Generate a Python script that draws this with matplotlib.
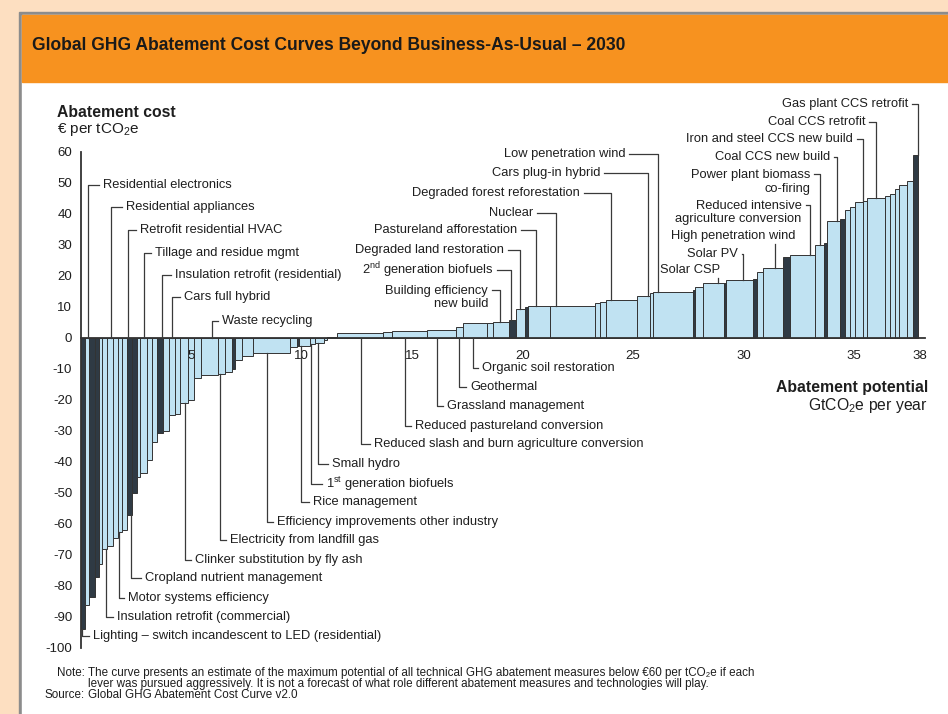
import matplotlib
matplotlib.use('Agg')
import matplotlib.pyplot as plt
from matplotlib import font_manager
from matplotlib.patches import Rectangle
import numpy as np

plt.rcParams['font.family'] = ['Liberation Sans', 'DejaVu Sans']
plt.rcParams['axes.unicode_minus'] = False
plt.rcParams['mathtext.fontset'] = 'custom'
plt.rcParams['mathtext.rm'] = 'Liberation Sans'
plt.rcParams['mathtext.it'] = 'Liberation Sans:italic'
plt.rcParams['mathtext.bf'] = 'Liberation Sans:bold'


def have_font(name):
    try:
        font_manager.findfont(font_manager.FontProperties(family=name),
                              fallback_to_default=False)
        return True
    except ValueError:
        return False


narrow = 'Liberation Sans Narrow' if have_font('Liberation Sans Narrow') else None

# abatement levers, left to right: potential (GtCO2e/yr) and cost (EUR/tCO2e)
potential = [0.20, 0.20, 0.26, 0.19, 0.11, 0.22, 0.31, 0.22, 0.15, 0.26,
             0.20, 0.22, 0.15, 0.33, 0.20, 0.23, 0.30, 0.27, 0.26, 0.22,
             0.35, 0.30, 0.30, 0.75, 0.35, 0.30, 0.15, 0.30, 0.50, 1.70,
             0.30, 0.10, 0.50, 0.20, 0.40, 0.15, 0.45, 2.10, 0.40, 1.60,
             1.30, 0.30, 1.10, 0.25, 0.75, 0.30, 0.40, 0.15, 1.00, 2.05,
             0.20, 0.30, 1.40, 0.55, 0.15, 1.80, 0.10, 0.38, 0.92, 0.10,
             1.24, 0.16, 0.30, 0.90, 0.30, 1.14, 0.41, 0.13, 0.59, 0.22,
             0.23, 0.23, 0.37, 0.15, 0.83, 0.23, 0.22, 0.20, 0.36, 0.24, 0.26]
cost = [-94, -86, -83.5, -77, -73, -68, -67, -64.5, -62.5, -62,
        -57, -50, -45, -43.5, -39.5, -33.5, -30.5, -30, -25, -24.5,
        -21, -20, -13, -12, -11.5, -11, -10, -7, -5.7, -4.9,
        -2.9, -2.6, -2.5, -2.0, -1.5, -0.5, 0.4, 1.5, 2.0, 2.3,
        2.6, 3.6, 4.7, 4.9, 5.3, 5.8, 9.2, 10.0, 10.4, 10.4,
        11.2, 11.5, 12.3, 13.5, 14.4, 14.7, 15.5, 16.5, 17.8, 17.8,
        18.7, 19.0, 21.4, 22.5, 26.0, 26.8, 30.0, 30.5, 37.7, 38.5,
        41.3, 42.4, 44.0, 44.2, 45.1, 45.8, 46.3, 48.0, 49.4, 50.8, 59.0]
dark_bars = [0, 2, 3, 10, 11, 16, 26, 31, 45, 47, 56, 59, 61, 64, 67, 69, 80]

y_ticks = list(range(-100, 61, 10))
x_ticks = [5, 10, 15, 20, 25, 30, 35, 38]

# labels: (text, lever position on x axis)
left_labels = ['Residential electronics', 'Residential appliances',
               'Retrofit residential HVAC', 'Tillage and residue mgmt',
               'Insulation retrofit (residential)', 'Cars full hybrid',
               'Waste recycling',
               'Lighting \u2013 switch incandescent to LED (residential)',
               'Insulation retrofit (commercial)', 'Motor systems efficiency',
               'Cropland nutrient management', 'Clinker substitution by fly ash',
               'Electricity from landfill gas',
               'Efficiency improvements other industry', 'Rice management',
               r'1$^{\mathrm{st}}$ generation biofuels', 'Small hydro',
               'Reduced slash and burn agriculture conversion',
               'Reduced pastureland conversion', 'Grassland management',
               'Geothermal', 'Organic soil restoration']
left_lever = [0.34, 1.38, 2.13, 2.87, 3.69, 4.15, 5.94,
              0.05, 1.15, 1.74, 2.27, 4.73, 6.31, 8.43, 10.0, 10.43, 10.75,
              12.69, 14.68, 16.13, 17.14, 17.75]
right_labels = ['Low penetration wind', 'Cars plug-in hybrid',
                'Degraded forest reforestation', 'Nuclear',
                'Pastureland afforestation', 'Degraded land restoration',
                r'2$^{\mathrm{nd}}$ generation biofuels',
                'Building efficiency\nnew build',
                'Gas plant CCS retrofit', 'Coal CCS retrofit',
                'Iron and steel CCS new build', 'Coal CCS new build',
                'Power plant biomass\nco-firing',
                'Reduced intensive\nagriculture conversion', 'Solar PV']
right_lever = [26.13, 25.68, 23.99, 21.52, 20.6, 19.89, 19.47, 18.98,
               37.9, 35.99, 35.42, 34.23, 33.46, 33.01, 29.98]
below_labels = ['High penetration wind', 'Solar CSP']
below_lever = [31.43, 28.84]

# label placement (data units)
left_pos = [(1.02, 49.5), (2.06, 42.3), (2.69, 34.8), (3.37, 27.4),
            (4.28, 20.2), (4.68, 13.2), (6.40, 5.6),
            (0.57, -96.1), (1.65, -89.9), (2.15, -83.9), (2.92, -77.4),
            (5.18, -71.6), (6.76, -65.2), (8.89, -59.3), (10.52, -52.9),
            (11.11, -47.1), (11.38, -40.6), (13.28, -34.2), (15.14, -28.3),
            (16.58, -21.9), (17.62, -15.9), (18.17, -9.6)]
right_pos = [(24.64, 59.4), (23.51, 53.1), (22.6, 46.8), (20.48, 40.3),
             (19.74, 34.8), (19.16, 28.4), (18.67, 21.9), (18.44, 13.0),
             (37.44, 75.5), (35.5, 69.8), (34.95, 64.1), (33.92, 58.5),
             (33.01, 50.3), (32.63, 40.5), (29.75, 27.1)]
right_hook = [59.4, 53.1, 46.8, 40.3, 34.8, 28.4, 21.9, 15.5,
              75.5, 69.8, 64.1, 58.5, 52.9, 42.9, 27.1]
below_pos = [(32.33, 33.0), (28.93, 21.9)]

widths = np.array(potential)
edges = np.concatenate([[0], np.cumsum(widths)])
lefts = edges[:-1]


def cost_at(x):
    i = np.searchsorted(edges, x, side='right') - 1
    return cost[min(i, len(cost) - 1)]


light = '#c0e2f2'
dark = '#2f3a44'
ink = '#1e1e1e'
line_c = '#3a3a3a'
fs = 9.3

fig = plt.figure(figsize=(9.48, 7.14), dpi=100)
fig.patch.set_facecolor('#fddfc1')
fig.add_artist(Rectangle((19 / 948, 0), 1, 1 - 12 / 714, transform=fig.transFigure,
                         color='#8c8c8c', zorder=-10))
fig.add_artist(Rectangle((22 / 948, 0), 1, 1 - 15 / 714, transform=fig.transFigure,
                         color='white', zorder=-9))
fig.add_artist(Rectangle((22 / 948, 1 - 82 / 714), 1, 67 / 714, transform=fig.transFigure,
                         color='#f7921f', zorder=-8))

title = 'Global GHG Abatement Cost Curves Beyond Business-As-Usual \u2013 2030'
if narrow:
    fig.text(32 / 948, 1 - 46 / 714, title, family=narrow, weight='bold',
             fontsize=15.3, color='#1a1a1a', va='center')
else:
    fig.text(32 / 948, 1 - 46 / 714, title, weight='bold',
             fontsize=12.65, color='#1a1a1a', va='center')

ax = fig.add_axes([0.01498, 0.07073, 0.97911, 0.79454])
ax.set_facecolor('none')
ax.set_xlim(-3, 39)
ax.set_ylim(-105, 78)

colors = [dark if i in dark_bars else light for i in range(len(cost))]
ax.bar(lefts, cost, width=widths, align='edge', color=colors,
       edgecolor='#333333', linewidth=0.7, zorder=2)

for s in ['top', 'right']:
    ax.spines[s].set_visible(False)
ax.spines['left'].set_position(('data', 0))
ax.spines['left'].set_bounds(-100, 60)
ax.spines['bottom'].set_position(('data', 0))
ax.spines['bottom'].set_bounds(0, 38.2)
for s in ['left', 'bottom']:
    ax.spines[s].set_color('#333333')
    ax.spines[s].set_linewidth(1.3)
    ax.spines[s].set_zorder(3)
ax.set_axisbelow(False)

ax.set_yticks(y_ticks)
ax.set_yticklabels([str(v) for v in y_ticks])
ax.set_yticks([-100, 60], minor=True)
ax.tick_params(axis='y', which='major', length=0, pad=6, labelsize=9.5, labelcolor=ink)
ax.tick_params(axis='y', which='minor', direction='in', length=5, width=1.2,
               color='#333333')
ax.set_xticks(x_ticks)
ax.set_xticklabels([str(v) for v in x_ticks])
ax.tick_params(axis='x', length=0, pad=9, labelsize=9.5, labelcolor=ink)

# axis titles
ax.text(-1.06, 72.9, 'Abatement cost', weight='bold', fontsize=11.3, color=ink, va='center')
ax.text(-1.06, 67.1, '\u20ac per tCO$_2$e', fontsize=11, color=ink, va='center')
ax.text(38.35, -16.1, 'Abatement potential', weight='bold', fontsize=11.3, color=ink,
        va='center', ha='right')
ax.text(38.35, -21.9, r'GtCO$_2$e per year', fontsize=11.3, color=ink,
        va='center', ha='right')

lw = 0.9
gap = 0.18

# labels to the right of their leader line
for txt, lx, (tx, ty) in zip(left_labels, left_lever, left_pos):
    c = cost_at(lx)
    y0 = c if (ty < 0 and c < 0) else 0
    ax.plot([lx, lx, tx - gap], [y0, ty, ty], color=line_c, lw=lw, clip_on=False, zorder=4)
    ax.text(tx, ty, txt, fontsize=fs, color=ink, ha='left', va='center')

# labels to the left of their leader line
for txt, lx, (tx, ty), hy in zip(right_labels, right_lever, right_pos, right_hook):
    c = cost_at(lx)
    ax.plot([tx + gap, lx, lx], [hy, hy, c], color=line_c, lw=lw, clip_on=False, zorder=4)
    ax.text(tx, ty, txt, fontsize=fs, color=ink, ha='right', va='center',
            multialignment='right', linespacing=1.15)

# labels with the leader straight below
for txt, lx, (tx, ty) in zip(below_labels, below_lever, below_pos):
    c = cost_at(lx)
    ax.plot([lx, lx], [ty - 2.6, c], color=line_c, lw=lw, clip_on=False, zorder=4)
    ax.text(tx, ty, txt, fontsize=fs, color=ink, ha='right', va='center')

# footnote: keys right-aligned, body left-aligned
note_keys = 'Note:\n\nSource:'
note_body = ('The curve presents an estimate of the maximum potential of all technical '
             'GHG abatement measures below \u20ac60 per tCO\u2082e if each\n'
             'lever was pursued aggressively. It is not a forecast of what role different '
             'abatement measures and technologies will play.\n'
             'Global GHG Abatement Cost Curve v2.0')
if narrow:
    nf = dict(family=[narrow, 'DejaVu Sans'], fontsize=9.9)
else:
    nf = dict(family=['Liberation Sans', 'DejaVu Sans'], fontsize=8.4)
fig.text(85 / 948, 1 - 667 / 714, note_keys, color=ink, va='top', ha='right',
         multialignment='right', linespacing=0.9, **nf)
fig.text(88 / 948, 1 - 667 / 714, note_body, color=ink, va='top', ha='left',
         linespacing=0.9, **nf)

fig.savefig('out.png', dpi=100, facecolor=fig.get_facecolor())
